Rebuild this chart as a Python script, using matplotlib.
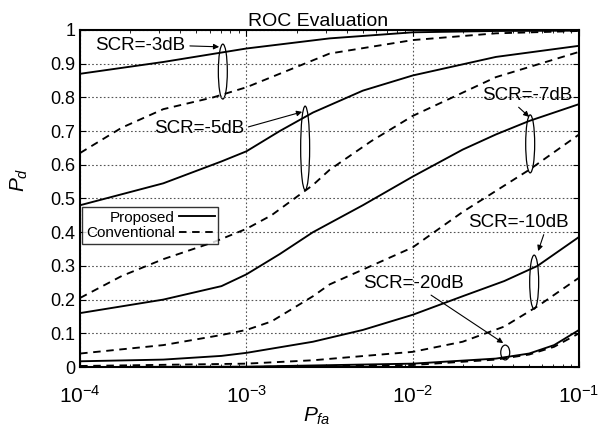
import numpy as np
import matplotlib
matplotlib.use("Agg")
import matplotlib.pyplot as plt
from matplotlib.patches import Ellipse
from matplotlib.ticker import LogLocator, NullFormatter

plt.rcParams['font.family'] = ['Liberation Sans', 'DejaVu Sans']
plt.rcParams['mathtext.fontset'] = 'custom'
plt.rcParams['mathtext.rm'] = 'Liberation Sans'
plt.rcParams['mathtext.it'] = 'Liberation Sans:italic'

# ---- data (log10 Pfa, Pd) ----
p3_x = [-4, -3.5, -3, -2.5, -2, -1.5, -1]
p3_y = [0.87, 0.905, 0.945, 0.975, 0.993, 0.997, 0.998]
c3_x = [-4, -3.75, -3.5, -3.2, -3, -2.6, -2.5, -2, -1.5, -1]
c3_y = [0.635, 0.71, 0.765, 0.80, 0.83, 0.91, 0.93, 0.97, 0.99, 0.997]

p5_x = [-4, -3.5, -3.15, -3, -2.8, -2.6, -2.3, -2, -1.5, -1]
p5_y = [0.48, 0.545, 0.61, 0.64, 0.70, 0.755, 0.82, 0.865, 0.92, 0.953]
c5_x = [-4, -3.75, -3.5, -3.2, -3, -2.85, -2.6, -2.5, -2.25, -2, -1.5, -1]
c5_y = [0.205, 0.27, 0.32, 0.37, 0.41, 0.45, 0.54, 0.585, 0.67, 0.745, 0.86, 0.935]

p7_x = [-4, -3.5, -3.15, -3, -2.8, -2.6, -2.3, -2, -1.7, -1.5, -1.3, -1]
p7_y = [0.16, 0.20, 0.24, 0.275, 0.335, 0.40, 0.48, 0.565, 0.645, 0.69, 0.73, 0.78]
c7_x = [-4, -3.5, -3.15, -3, -2.85, -2.6, -2.5, -2, -1.7, -1.3, -1]
c7_y = [0.04, 0.065, 0.095, 0.11, 0.135, 0.21, 0.245, 0.355, 0.46, 0.585, 0.69]

p10_x = [-4, -3.5, -3.15, -3, -2.6, -2.3, -2, -1.7, -1.45, -1.25, -1]
p10_y = [0.017, 0.022, 0.033, 0.042, 0.075, 0.11, 0.155, 0.21, 0.255, 0.30, 0.386]
c10_x = [-4, -3, -2.6, -2, -1.7, -1.45, -1.25, -1]
c10_y = [0.003, 0.01, 0.02, 0.045, 0.075, 0.12, 0.18, 0.265]

p20_x = [-4, -3, -2, -1.5, -1.3, -1.15, -1]
p20_y = [0.0, 0.001, 0.01, 0.025, 0.04, 0.065, 0.11]
c20_x = [-4, -3, -2, -1.5, -1.3, -1.15, -1]
c20_y = [0.0, 0.0, 0.006, 0.022, 0.037, 0.06, 0.10]

labels = ['SCR=-3dB', 'SCR=-5dB', 'SCR=-7dB', 'SCR=-10dB', 'SCR=-20dB']
# ellipse: log10 x centre, y low, y high
ell_x = [-3.142, -2.647, -1.294, -1.27, -1.444]
ell_lo = [0.795, 0.525, 0.576, 0.172, 0.021]
ell_hi = [0.958, 0.774, 0.748, 0.332, 0.065]
# label text centre (log10 x, y) and arrow tip (log10 x, y)
txt_x = [-3.636, -3.284, -1.312, -1.366, -1.998]
txt_y = [0.953, 0.709, 0.807, 0.43, 0.249]
tip_x = [-3.164, -2.665, -1.300, -1.246, -1.456]
tip_y = [0.95, 0.757, 0.742, 0.344, 0.071]
arrow_rel = [(1.0, 0.5), (1.0, 0.5), (0.35, 0.05), (0.77, 0.05), (0.6, 0.1)]

fig = plt.figure(figsize=(6.07, 4.28), dpi=100)
ax = fig.add_axes([0.132, 0.1425, 0.822, 0.7875])

dash = (0, (4, 3))
series = [(p3_x, p3_y, c3_x, c3_y), (p5_x, p5_y, c5_x, c5_y),
          (p7_x, p7_y, c7_x, c7_y), (p10_x, p10_y, c10_x, c10_y),
          (p20_x, p20_y, c20_x, c20_y)]
for i, (px, py, cx, cy) in enumerate(series):
    ax.plot(10.0 ** np.array(px), py, color='black', lw=1.35,
            label='Proposed' if i == 0 else None)
    ax.plot(10.0 ** np.array(cx), cy, color='black', lw=1.35, linestyle=dash,
            label='Conventional' if i == 0 else None)

ax.set_xscale('log')
ax.set_xlim(1e-4, 1e-1)
ax.set_ylim(0, 1)
ax.set_xticks([1e-4, 1e-3, 1e-2, 1e-1])
ax.set_xticklabels([r'$\mathregular{10^{-4}}$', r'$\mathregular{10^{-3}}$',
                    r'$\mathregular{10^{-2}}$', r'$\mathregular{10^{-1}}$'])
ax.xaxis.set_minor_locator(LogLocator(base=10, subs=np.arange(2, 10), numticks=20))
ax.xaxis.set_minor_formatter(NullFormatter())
ax.set_yticks(np.arange(0, 1.01, 0.1))
ax.set_yticklabels(['0', '0.1', '0.2', '0.3', '0.4', '0.5', '0.6', '0.7', '0.8', '0.9', '1'])
ax.tick_params(which='both', direction='in', top=True, right=True, labelsize=13)
ax.tick_params(which='major', length=4)
ax.tick_params(which='minor', length=2)
ax.tick_params(axis='x', labelsize=15, pad=13)
ax.grid(True, which='major', color='#555555', linestyle=(0, (1.5, 2)), lw=0.8)
for s in ax.spines.values():
    s.set_linewidth(1.5)

ax.set_title('ROC Evaluation', fontsize=14, pad=3, x=0.477)
ax.set_xlabel(r'$P_{fa}$', fontsize=15)
ax.xaxis.set_label_coords(0.475, -0.115)
ax.set_ylabel(r'$P_d$', fontsize=15)
ax.yaxis.set_label_coords(-0.1, 0.555)

def to_axes(lx, y):
    return ((lx + 4) / 3.0, y)

for i in range(len(labels)):
    cxa, _ = to_axes(ell_x[i], 0)
    cy = (ell_lo[i] + ell_hi[i]) / 2
    e = Ellipse((cxa, cy), width=0.018, height=ell_hi[i] - ell_lo[i],
                transform=ax.transAxes, fill=False, edgecolor='black', lw=0.9)
    ax.add_patch(e)
    ax.annotate(labels[i], xy=to_axes(tip_x[i], tip_y[i]), xycoords='axes fraction',
                xytext=to_axes(txt_x[i], txt_y[i]), textcoords='axes fraction',
                ha='center', va='center', fontsize=13.5,
                arrowprops=dict(arrowstyle='-|>', lw=0.8, color='black',
                                mutation_scale=8, shrinkA=1, shrinkB=0,
                                relpos=arrow_rel[i]))

leg = ax.legend(loc='upper left', bbox_to_anchor=(0.004, 0.475), markerfirst=False,
                frameon=True, fancybox=False, borderpad=0.25,
                handlelength=2.3, handletextpad=0.3, labelspacing=0.1,
                borderaxespad=0, prop={'family': ['Liberation Sans Narrow', 'Liberation Sans'], 'size': 11})
leg.get_frame().set_edgecolor('black')
leg.get_frame().set_linewidth(1.0)
for t in leg.get_texts():
    t.set_ha('right')

fig.savefig('out.png', dpi=100)
